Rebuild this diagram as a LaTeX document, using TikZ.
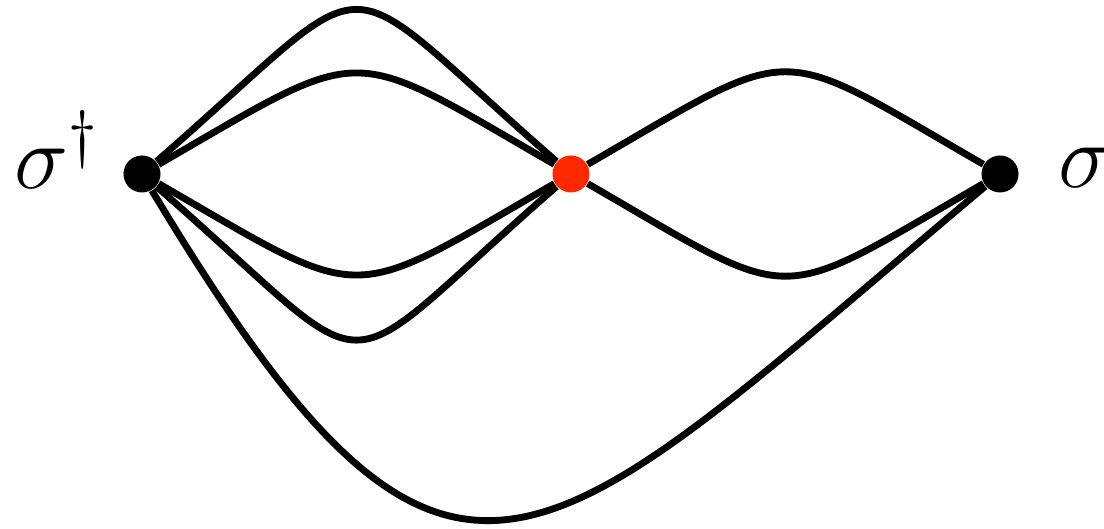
\RequirePackage{fix-cm}
\documentclass[tikz,border=0pt]{standalone}
\usepackage{amsmath,amssymb}
\usepackage{tikz}
\definecolor{vtxred}{RGB}{255,40,0}

\begin{document}
\begin{tikzpicture}[
    dot/.style={circle, fill=black, inner sep=0pt, minimum size=0.37cm},
    reddot/.style={dot, fill=vtxred},
    prop/.style={line width=1.95pt},
    lbl/.style={inner sep=0pt, font=\fontsize{26}{30}\selectfont}
]
\useasboundingbox (0,0) rectangle (11.04,5.29);

\node[dot] (sdag) at (1.42,3.55) {};
\node[reddot] (vtx) at (5.71,3.55) {};
\node[dot] (s) at (10.00,3.55) {};

\node[lbl, anchor=base west] (sdaglbl) at (0.14,3.40) {$\sigma^{\dagger}$};
\node[lbl, anchor=base west] (slbl) at (10.58,3.41) {$\sigma$};

\draw[prop] (sdag) to[out=41,in=139,looseness=1.98] (vtx);
\draw[prop] (sdag) to[out=30,in=150,looseness=1.58] (vtx);
\draw[prop] (sdag) to[out=-30,in=-150,looseness=1.58] (vtx);
\draw[prop] (sdag) to[out=-41,in=-139,looseness=2.0] (vtx);
\draw[prop] (vtx) to[out=30,in=150,looseness=1.6] (s);
\draw[prop] (vtx) to[out=-30,in=-150,looseness=1.6] (s);
\draw[prop] (sdag) to[out=-59,in=-140,looseness=1.8] (s);
\end{tikzpicture}
\end{document}
